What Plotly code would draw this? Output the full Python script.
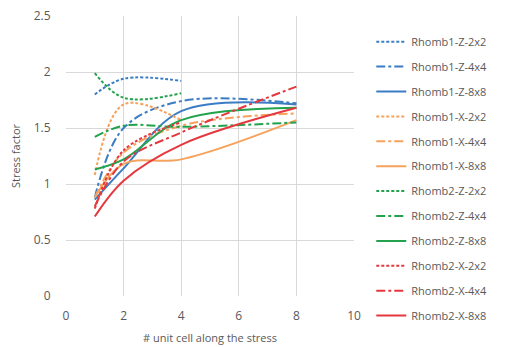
import plotly.graph_objects as go

names = ["Rhomb1-Z-2x2", "Rhomb1-Z-4x4", "Rhomb1-Z-8x8",
         "Rhomb1-X-2x2", "Rhomb1-X-4x4", "Rhomb1-X-8x8",
         "Rhomb2-Z-2x2", "Rhomb2-Z-4x4", "Rhomb2-Z-8x8",
         "Rhomb2-X-2x2", "Rhomb2-X-4x4", "Rhomb2-X-8x8"]

x_short = [1, 2, 4]
x_long = [1, 2, 4, 8]

r1z_2x2 = [1.80, 1.94, 1.92]
r1z_4x4 = [0.88, 1.50, 1.74, 1.72]
r1z_8x8 = [0.86, 1.14, 1.65, 1.71]
r1x_2x2 = [1.08, 1.71, 1.57]
r1x_4x4 = [0.88, 1.28, 1.52, 1.63]
r1x_8x8 = [0.88, 1.18, 1.22, 1.57]
r2z_2x2 = [1.99, 1.77, 1.81]
r2z_4x4 = [1.42, 1.52, 1.51, 1.55]
r2z_8x8 = [1.13, 1.22, 1.57, 1.68]
r2x_2x2 = [0.78, 1.30, 1.55]
r2x_4x4 = [0.80, 1.20, 1.46, 1.87]
r2x_8x8 = [0.71, 1.03, 1.35, 1.68]

series = [r1z_2x2, r1z_4x4, r1z_8x8, r1x_2x2, r1x_4x4, r1x_8x8,
          r2z_2x2, r2z_4x4, r2z_8x8, r2x_2x2, r2x_4x4, r2x_8x8]

blue, orange, green, red = "#3B7DC4", "#F5A25D", "#23A24D", "#E5383E"
colors = [blue] * 3 + [orange] * 3 + [green] * 3 + [red] * 3
dashes = ["3px,2px", "dashdot", "solid"] * 4

fig = go.Figure()
for i, (nm, ys) in enumerate(zip(names, series)):
    xs = x_short if len(ys) == 3 else x_long
    fig.add_trace(go.Scatter(
        x=xs, y=ys, name=nm, mode="lines",
        line=dict(color=colors[i], width=2, dash=dashes[i],
                  shape="spline", smoothing=1.0),
        legendgroup=nm,
    ))

font_family = "Open Sans, Liberation Sans, sans-serif"
fig.update_layout(
    width=505, height=347,
    margin=dict(l=66, r=151, t=16, b=51),
    paper_bgcolor="white", plot_bgcolor="white",
    font=dict(family=font_family, color="#595959", size=11),
    showlegend=True,
    legend=dict(x=1.06, xanchor="left", y=0.96, yanchor="top",
                font=dict(size=11, color="#595959"),
                tracegroupgap=5.9, itemwidth=30, bgcolor="rgba(0,0,0,0)",
                maxheight=340),
    xaxis=dict(range=[0, 10], dtick=2, showgrid=True, gridcolor="#D9D9D9",
               zeroline=False, showline=False, ticks="outside", ticklen=9,
               tickcolor="rgba(0,0,0,0)", automargin=False,
               title=dict(text="# unit cell along the stress", font=dict(size=11), standoff=10),
               tickfont=dict(size=12)),
    yaxis=dict(range=[0, 2.5], dtick=0.5, showgrid=True, gridcolor="#D9D9D9",
               zeroline=False, showline=False, ticks="outside", ticklen=12,
               tickcolor="rgba(0,0,0,0)", automargin=False,
               title=dict(text="Stress factor", font=dict(size=11), standoff=10),
               tickfont=dict(size=12)),
)

fig.write_html("out.html")
